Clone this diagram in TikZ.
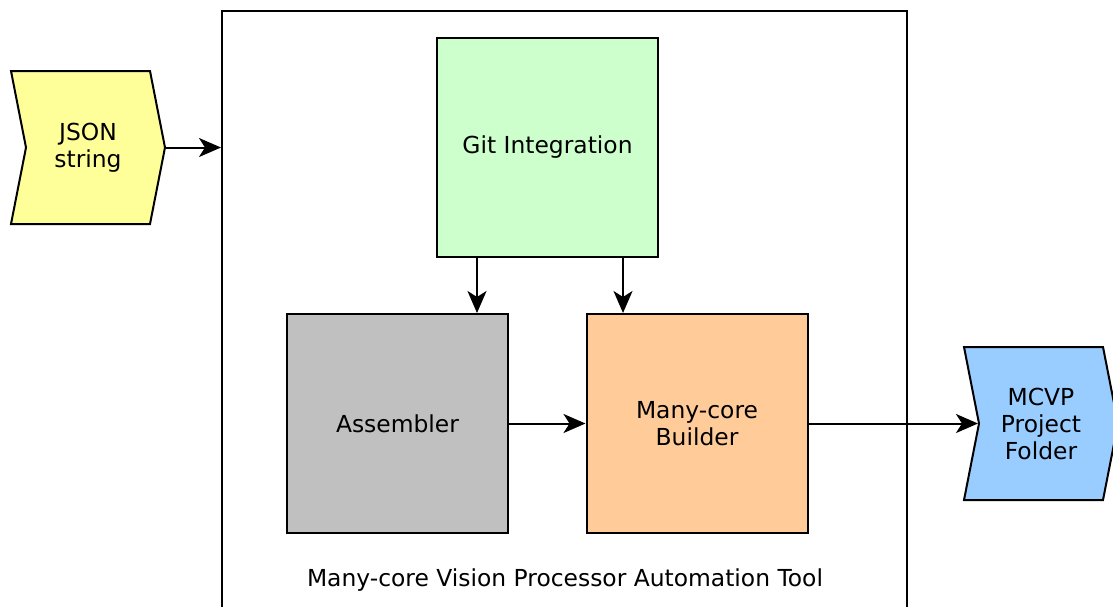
\documentclass[tikz,border=0pt]{standalone}
\usepackage{fontspec}
\setmainfont{DejaVu Sans}
\usepackage{tikz}
\usetikzlibrary{shapes.symbols, arrows.meta}
\definecolor{jsonyellow}{HTML}{FFFF99}
\definecolor{gitgreen}{HTML}{CCFFCC}
\definecolor{asmgray}{HTML}{C0C0C0}
\definecolor{buildorange}{HTML}{FFCC99}
\definecolor{folderblue}{HTML}{99CCFF}
\tikzstyle{block} = [rectangle, minimum width=110.5pt, minimum height=109.5pt, inner sep=0pt, text centered, align=center, draw=black, line width=1pt]
\tikzstyle{chevron} = [signal, signal from=west, signal to=east, signal pointer angle=157.8, minimum width=77pt, minimum height=76.5pt, inner sep=0pt, align=center, draw=black, line width=1pt]
\tikzstyle{arrow} = [line width=1pt,-{Stealth[length=11pt,width=9.5pt,inset=3pt]}]

\begin{document}
\begin{tikzpicture}[x=0.5pt, y=-0.5pt, node distance=138pt, font=\fontsize{11.7}{13.5}\selectfont]
\useasboundingbox (0,0) rectangle (1113,606);

\node (tool) [rectangle, draw=black, line width=1pt, minimum width=342.5pt, minimum height=314.5pt] at (564.5,325.5) {};

\node (toolname) at (565,580) {Many-core Vision Processor Automation Tool};

\node (git) [block, fill=gitgreen] at (547.5,147.5) {Git Integration};

\node (asm) [block, fill=asmgray, below of=git, xshift=-75pt] {Assembler};

\node (mcb) [block, fill=buildorange, right of=asm, node distance=149.75pt] {Many-core\\Builder};

\node (json) [chevron, fill=jsonyellow, left of=git, node distance=229.75pt] {JSON\\string};

\node (mcvp) [chevron, fill=folderblue, right of=mcb, node distance=172pt] {MCVP\\Project\\Folder};

\draw [arrow] (json.east) -- (tool.west |- json.east);

\draw [arrow] ([xshift=-35.25pt]git.south) -- ([xshift=-35.25pt]git.south |- asm.north);

\draw [arrow] ([xshift=37.75pt]git.south) -- ([xshift=37.75pt]git.south |- mcb.north);

\draw [arrow] (asm) -- (mcb);

\draw [arrow] (mcb) -- (mcvp.west);

\end{tikzpicture}
\end{document}
